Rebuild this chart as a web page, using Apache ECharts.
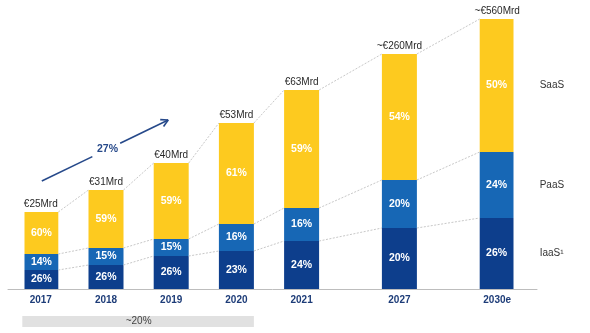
<!DOCTYPE html>
<html>
<head>
<meta charset="utf-8">
<script src="https://cdn.jsdelivr.net/npm/echarts@6/dist/echarts.min.js"></script>
<style>html,body{margin:0;padding:0;background:#fff}#c{width:590px;height:333px}</style>
</head>
<body>
<div id="c"></div>
<script>
// ---- data ----
const years = ['2017', '2018', '2019', '2020', '2021', '2027', '2030e'];
const totals = ['€25Mrd', '€31Mrd', '€40Mrd', '€53Mrd', '€63Mrd', '~€260Mrd', '~€560Mrd'];
const iaasPct = [26, 26, 26, 23, 24, 20, 26];
const paasPct = [14, 15, 15, 16, 16, 20, 24];
const saasPct = [60, 59, 59, 61, 59, 54, 50];
// segment heights as drawn (the bars are illustrative, not to scale)
const iaasH = [19, 24, 33, 38, 48, 61, 71];
const paasH = [16, 17, 17, 27, 33, 48, 66];
const saasH = [42, 58, 76, 101, 118, 126, 133];
const segNames = ['SaaS', 'PaaS', 'IaaS¹'];
const cagrLabel = '27%';
const cagrFrom = 108, cagrTo = 169; // arrow heights
const bandLabel = '~20%';

// ---- layout ----
const slot = [0, 2, 4, 6, 8, 11, 14];
const N_SLOTS = 15;
const BAR_W = 35;
const FONT = '"Liberation Sans", Arial, sans-serif';
const C_SAAS = '#FDCA1F', C_PAAS = '#1767B5', C_IAAS = '#0D3E8C';

const cats = Array(N_SLOTS).fill('');
years.forEach((y, i) => cats[slot[i]] = y);
const slotToIdx = {};
slot.forEach((s, i) => slotToIdx[s] = i);
function spread(arr) {
  const a = Array(N_SLOTS).fill('-');
  arr.forEach((v, i) => a[slot[i]] = v);
  return a;
}
function pctLabel(pcts) {
  return p => pcts[slotToIdx[p.dataIndex]] + '%';
}
const barLabel = (pcts) => ({
  show: true, position: 'inside', color: '#fff', fontWeight: 'bold',
  fontSize: 10.5, fontFamily: FONT, formatter: pctLabel(pcts)
});

const chart = echarts.init(document.getElementById('c'), null, {renderer: 'canvas'});

function renderItem(params, api) {
  const i = params.dataIndex;
  const s = slot[i];
  const half = BAR_W / 2;
  const cum = [iaasH[i], iaasH[i] + paasH[i], iaasH[i] + paasH[i] + saasH[i]];
  const children = [];
  const top = api.coord([s, cum[2]]);
  children.push({
    type: 'text',
    style: {text: totals[i], x: top[0], y: top[1] - 8, textAlign: 'center', textVerticalAlign: 'middle',
      align: 'center', verticalAlign: 'middle', fill: '#2a2a2a', font: '10px ' + FONT}
  });
  if (i < years.length - 1) {
    const j = i + 1;
    const cumN = [iaasH[j], iaasH[j] + paasH[j], iaasH[j] + paasH[j] + saasH[j]];
    for (let k = 0; k < 3; k++) {
      const p1 = api.coord([s, cum[k]]);
      const p2 = api.coord([slot[j], cumN[k]]);
      children.push({
        type: 'line',
        shape: {x1: p1[0] + half, y1: p1[1], x2: p2[0] - half, y2: p2[1]},
        style: {stroke: '#c8c8c8', lineWidth: 1, lineDash: [2, 1.5]}
      });
    }
  } else {
    const mids = [(cum[1] + cum[2]) / 2, (cum[0] + cum[1]) / 2, cum[0] / 2];
    mids.forEach((m, k) => {
      const p = api.coord([s, m]);
      children.push({
        type: 'text',
        style: {text: segNames[k], x: p[0] + half + 25, y: p[1], textAlign: 'left', textVerticalAlign: 'middle',
          align: 'left', verticalAlign: 'middle', fill: '#333', font: '10px ' + FONT}
      });
    });
  }
  if (i === 0) {
    // CAGR arrow
    const a = api.coord([slot[0], cagrFrom]);
    const b = api.coord([slot[2], cagrTo]);
    const x1 = a[0] + 1, y1 = a[1], x2 = b[0] - 3, y2 = b[1];
    const lerp = t => [x1 + (x2 - x1) * t, y1 + (y2 - y1) * t];
    const g1 = lerp(0.40), g2 = lerp(0.62), mid = lerp(0.52);
    const stroke = {stroke: '#26498a', lineWidth: 1.6};
    children.push({type: 'line', shape: {x1: x1, y1: y1, x2: g1[0], y2: g1[1]}, style: stroke});
    children.push({type: 'line', shape: {x1: g2[0], y1: g2[1], x2: x2, y2: y2}, style: stroke});
    const ang = Math.atan2(y2 - y1, x2 - x1);
    const L = 8;
    [-0.5, 0.5].forEach(d => {
      children.push({type: 'line', shape: {x1: x2, y1: y2,
        x2: x2 - L * Math.cos(ang + d), y2: y2 - L * Math.sin(ang + d)}, style: stroke});
    });
    children.push({
      type: 'text',
      style: {text: cagrLabel, x: mid[0], y: mid[1], textAlign: 'center', textVerticalAlign: 'middle',
        align: 'center', verticalAlign: 'middle', fill: '#26498a', font: 'bold 10.5px ' + FONT}
    });
    // grey band under 2017-2020
    const l = api.coord([slot[0], 0]);
    const r = api.coord([slot[3], 0]);
    children.push({type: 'rect', shape: {x: l[0] - half - 1, y: l[1] + 27, width: (r[0] + half) - (l[0] - half) + 1, height: 11},
      style: {fill: '#e1e1e1'}});
    children.push({
      type: 'text',
      style: {text: bandLabel, x: (l[0] + r[0]) / 2, y: l[1] + 32.5, textAlign: 'center', textVerticalAlign: 'middle',
        align: 'center', verticalAlign: 'middle', fill: '#444', font: '10px ' + FONT}
    });
  }
  return {type: 'group', children: children};
}

const option = {
  animation: false,
  backgroundColor: '#fff',
  grid: [
    {left: 24.5, right: 76.5, top: 14, bottom: 44},
    {left: 8, right: 53, top: 14, bottom: 44}
  ],
  xAxis: [
    {type: 'category', data: cats, gridIndex: 0,
      axisLine: {show: false}, axisTick: {show: false},
      axisLabel: {interval: 0, margin: 6, color: '#1d3c78', fontWeight: 'bold', fontSize: 10, fontFamily: FONT}},
    {type: 'value', gridIndex: 1, min: 0, max: 1,
      axisLine: {show: true, lineStyle: {color: '#bdbdbd', width: 1}},
      axisTick: {show: false}, axisLabel: {show: false}, splitLine: {show: false}}
  ],
  yAxis: [
    {type: 'value', gridIndex: 0, min: 0, max: 275, show: false, splitLine: {show: false}},
    {type: 'value', gridIndex: 1, min: 0, max: 1, show: false}
  ],
  series: [
    {name: 'IaaS', type: 'bar', stack: 'a', barWidth: BAR_W, data: spread(iaasH),
      itemStyle: {color: C_IAAS}, label: barLabel(iaasPct)},
    {name: 'PaaS', type: 'bar', stack: 'a', barWidth: BAR_W, data: spread(paasH),
      itemStyle: {color: C_PAAS}, label: barLabel(paasPct)},
    {name: 'SaaS', type: 'bar', stack: 'a', barWidth: BAR_W, data: spread(saasH),
      itemStyle: {color: C_SAAS}, label: barLabel(saasPct)},
    {type: 'custom', renderItem: renderItem, clip: false, z: 5,
      data: years.map((y, i) => [slot[i], 0]), encode: {x: 0, y: 1}}
  ]
};
chart.setOption(option);
</script>
</body>
</html>
